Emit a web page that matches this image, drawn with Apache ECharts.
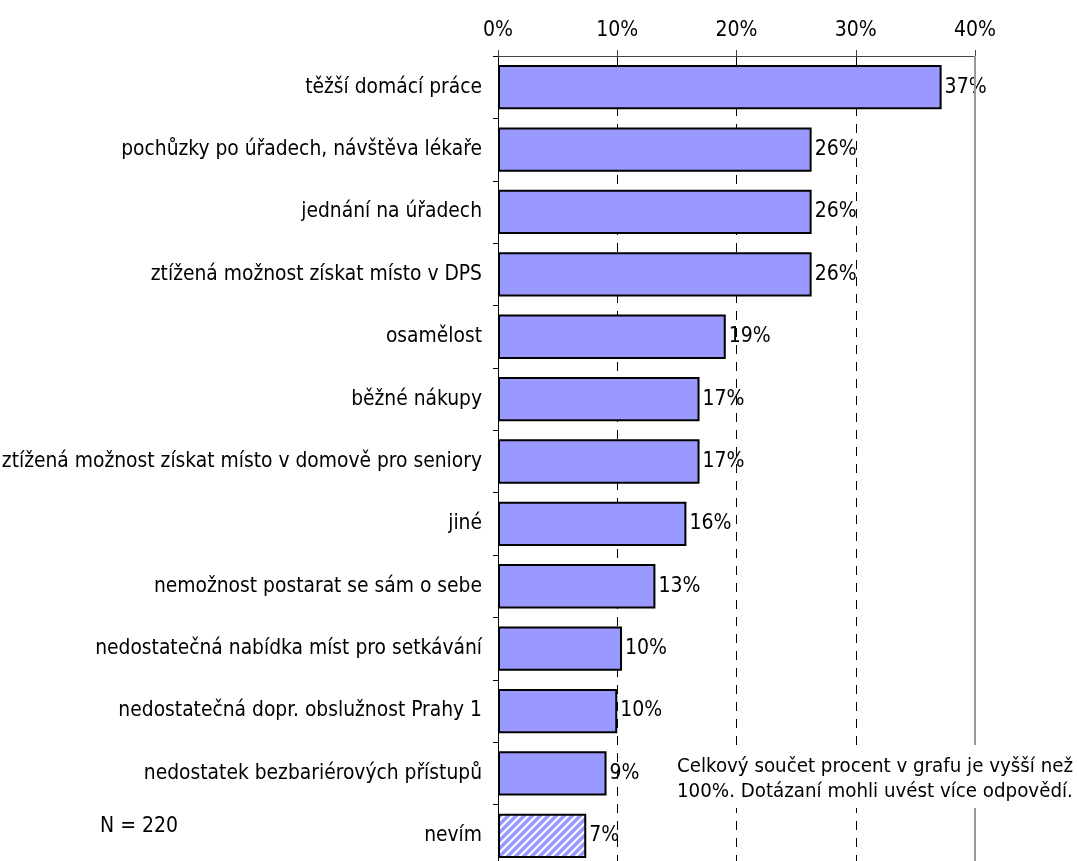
<!DOCTYPE html>
<html><head><meta charset="utf-8">
<script src="https://cdn.jsdelivr.net/npm/echarts@6/dist/echarts.min.js"></script>
<style>html,body{margin:0;padding:0;background:#fff}#c{width:1077px;height:861px}</style>
</head><body><div id="c"></div>
<script>
const categories = [
  "těžší domácí práce",
  "pochůzky po úřadech, návštěva lékaře",
  "jednání na úřadech",
  "ztížená možnost získat místo v DPS",
  "osamělost",
  "běžné nákupy",
  "ztížená možnost získat místo v domově pro seniory",
  "jiné",
  "nemožnost postarat se sám o sebe",
  "nedostatečná nabídka míst pro setkávání",
  "nedostatečná dopr. obslužnost Prahy 1",
  "nedostatek bezbariérových přístupů",
  "nevím"
];
const values = [37.2, 26.3, 26.3, 26.3, 19.1, 16.9, 16.9, 15.8, 13.2, 10.4, 10.0, 9.1, 7.4];
const hatchedCategory = "nevím";
const xTicks = [0, 10, 20, 30, 40];
const noteText = "Celkový součet procent v grafu je vyšší než\n100%. Dotázaní mohli uvést více odpovědí.";
const nText = "N = 220";

const FONT = "'DejaVu Sans Condensed', 'DejaVu Sans'";
const FS = 21;
const barColor = "#9999FF";

// hatch pattern
const pc = document.createElement('canvas');
pc.width = 8; pc.height = 8;
const g = pc.getContext('2d');
g.fillStyle = barColor; g.fillRect(0,0,8,8);
g.strokeStyle = '#ffffff'; g.lineWidth = 2;
g.beginPath();
g.moveTo(-2,10); g.lineTo(10,-2);
g.moveTo(-2,2); g.lineTo(2,-2);
g.moveTo(6,10); g.lineTo(10,6);
g.stroke();

const chart = echarts.init(document.getElementById('c'), null, {renderer:'canvas'});
const data = values.map((v,i)=>{
  const item = {value:v};
  if (categories[i] === hatchedCategory) item.itemStyle = {color:{image:pc, repeat:'repeat'}};
  return item;
});
chart.setOption({
  animation:false,
  grid:{left:498, right:102, top:56, bottom:-6, containLabel:false, outerBoundsMode:'none'},
  xAxis:{
    type:'value', position:'top', min:xTicks[0], max:xTicks[xTicks.length-1], interval:10,
    axisLine:{show:true, lineStyle:{color:'#444', width:1}},
    axisTick:{show:true, length:6, lineStyle:{color:'#444'}},
    axisLabel:{formatter: v=>v+'%', fontFamily:FONT, fontSize:FS, color:'#000', margin:15},
    splitLine:{show:true, lineStyle:{type:[9,8], color:'#000', width:1}}
  },
  yAxis:{
    type:'category', inverse:true, data:categories,
    axisLine:{show:true, lineStyle:{color:'#000', width:1}},
    axisTick:{show:true, length:5, lineStyle:{color:'#000'}},
    axisLabel:{fontFamily:FONT, fontSize:20.8, color:'#000', margin:16},
    splitLine:{show:false}
  },
  series:[{
    type:'bar', data:data, barCategoryGap:'29%',
    itemStyle:{color:barColor, borderColor:'#000', borderWidth:2},
    label:{show:true, position:'right', distance:3, formatter:p=>Math.round(p.value)+'%',
      fontFamily:FONT, fontSize:FS, color:'#000'},
    markLine:{silent:true, symbol:'none', label:{show:false},
      lineStyle:{type:'solid', color:'#999', width:2},
      data:[{xAxis:40}]}
  }],
  graphic:[
    {type:'rect', left:670, top:745, shape:{width:407, height:63}, style:{fill:'#fff'}, z:100},
    {type:'text', left:677, top:754, z:101,
      style:{text:noteText, fontFamily:FONT, fontSize:20.3, fill:'#000', lineHeight:25}},
    {type:'text', left:100, top:816, z:101,
      style:{text:nText, fontFamily:FONT, fontSize:FS, fill:'#000', lineHeight:22}}
  ]
});
</script></body></html>
